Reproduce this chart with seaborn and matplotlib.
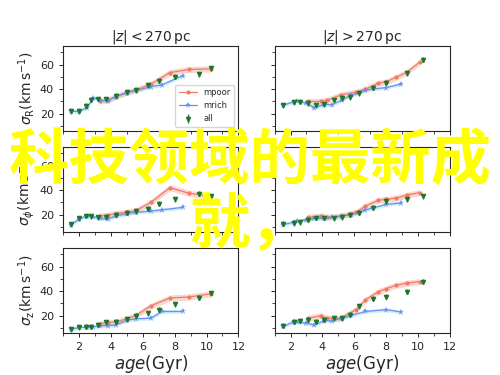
import numpy as np
import seaborn as sns
import matplotlib.pyplot as plt
from matplotlib.ticker import MultipleLocator

# ages (Gyr) and dispersions (km/s)
# ---- |z| < 270 pc
ages_all_in = [1.5, 2.0, 2.45, 2.75, 3.2, 3.7, 4.3, 5.0, 5.6, 6.3, 7.0, 8.0, 9.55, 10.25]
sR_all_in = [22, 22, 26.5, 31.5, 32, 32, 34.5, 37.5, 39, 43, 47, 50, 52, 57]
sP_all_in = [12.4, 17, 19, 18.8, 18, 18.3, 20, 21.8, 23, 25, 29, 32.5, 37, 35]
sZ_all_in = [9, 10.7, 11.2, 11.2, 12.6, 14.8, 15.3, 17.3, 20, 22, 24.9, 29.5, 34.5, 38.5]

ages_poor_in = [3.3, 3.8, 4.3, 5.0, 5.6, 6.5, 7.7, 8.9, 10.25]
sR_poor_in = [30.5, 31, 34, 37.5, 39.5, 44, 53.5, 56, 56.5]
sP_poor_in = [19, 19.5, 21, 22, 23.5, 30, 42, 37.5, 35]
sZ_poor_in = [13.4, 14.5, 15, 17.5, 20.5, 28, 34.5, 35.3, 37.8]

ages_rich_in = [1.5, 2.0, 2.5, 2.9, 3.3, 3.8, 4.3, 5.0, 5.6, 6.5, 7.2, 8.5]
sR_rich_in = [22, 22, 25, 33, 31, 30.5, 34, 37, 39, 42, 43.5, 51]
sP_rich_in = [12, 16.5, 19, 18.5, 17, 16.5, 19, 21, 22, 23, 24, 26]
sZ_rich_in = [9, 10.5, 10.5, 11, 12, 12, 12.5, 16.5, 17.5, 18, 23.5, 23.5]

# ---- |z| > 270 pc
ages_all_out = [1.55, 2.2, 2.6, 3.1, 3.6, 4.1, 4.75, 5.2, 5.7, 6.3, 7.15, 8.0, 9.3, 10.3]
sR_all_out = [27, 29.3, 29.8, 28.4, 27.1, 27.6, 31.2, 32.5, 33.4, 36.6, 41.3, 45.4, 53, 64]
sP_all_out = [12.7, 13.2, 14, 16, 17.4, 17.4, 17, 18, 20, 21.5, 25.6, 31, 32.5, 35]
sZ_all_out = [11.8, 15.3, 16.1, 16.7, 15.3, 16.7, 18, 18, 20.8, 27.6, 33.7, 35.4, 39.5, 47.8]

ages_poor_out = [3.1, 3.9, 4.3, 5.15, 6.1, 6.7, 7.5, 8.0, 8.6, 9.3, 10.1]
sR_poor_out = [30, 30, 31, 35.3, 37.5, 40, 44.8, 46, 49.5, 53.8, 62]
sP_poor_out = [18, 19, 18, 19, 22, 27, 31.7, 32.5, 33.5, 36, 38]
sZ_poor_out = [18, 20, 18, 18, 25, 33, 39.5, 42, 44.7, 46.5, 47.8]

ages_rich_out = [1.55, 2.2, 2.4, 3.0, 3.5, 4.1, 4.6, 5.2, 5.8, 6.7, 8.0, 8.95]
sR_rich_out = [27, 29.8, 30.7, 28.4, 25, 27.5, 27.5, 31, 35, 39.4, 41.3, 44.3]
sP_rich_out = [12, 14, 15, 16, 17, 17, 18, 19, 20, 24, 28.4, 29.7]
sZ_rich_out = [11.3, 15.3, 15, 14, 12.5, 16, 16, 18, 20.3, 23.5, 25, 23]

titles = [r"$|z|<270\,\mathrm{pc}$", r"$|z|>270\,\mathrm{pc}$"]
ylabels = [r"$\sigma_\mathrm{R}(\mathrm{km\,s^{-1}})$",
           r"$\sigma_\phi(\mathrm{km\,s^{-1}})$",
           r"$\sigma_\mathrm{z}(\mathrm{km\,s^{-1}})$"]

sns.set_style("ticks")
plt.rcParams["font.family"] = ["DejaVu Sans"]

red = "#ee7b64"
blue = "#6f8ff0"
band_blue = "#6ccff6"
green = "#1a7a2a"

fig, axes = plt.subplots(3, 2, figsize=(5, 3.75), dpi=100, sharex=True, sharey=True)
fig.subplots_adjust(left=0.126, right=0.9, top=0.877, bottom=0.112, hspace=0.19, wspace=0.206)

cols = [
    (ages_all_in, [sR_all_in, sP_all_in, sZ_all_in], ages_poor_in, [sR_poor_in, sP_poor_in, sZ_poor_in],
     ages_rich_in, [sR_rich_in, sP_rich_in, sZ_rich_in]),
    (ages_all_out, [sR_all_out, sP_all_out, sZ_all_out], ages_poor_out, [sR_poor_out, sP_poor_out, sZ_poor_out],
     ages_rich_out, [sR_rich_out, sP_rich_out, sZ_rich_out]),
]

for c, (a_all, s_all, a_poor, s_poor, a_rich, s_rich) in enumerate(cols):
    for r in range(3):
        ax = axes[r, c]
        yp = np.array(s_poor[r])
        yr = np.array(s_rich[r])
        ax.fill_between(a_poor, yp - 2.5, yp + 2.5, color=red, alpha=0.3, lw=0)
        ax.fill_between(a_rich, yr - 1.5, yr + 1.5, color=band_blue, alpha=0.35, lw=0)
        sns.lineplot(x=a_poor, y=yp, ax=ax, color=red, marker="o", markersize=3,
                     markeredgewidth=0, lw=0.9, label="mpoor" if (r == 0 and c == 0) else None)
        sns.lineplot(x=a_rich, y=yr, ax=ax, color=blue, marker="*", markersize=5,
                     markeredgewidth=0, lw=0.9, label="mrich" if (r == 0 and c == 0) else None)
        ax.errorbar(a_all, s_all[r], yerr=2, fmt="v", ms=3, color=green, ecolor=green,
                    elinewidth=1, capsize=0, label="all" if (r == 0 and c == 0) else None)
        ax.set_xlim(1, 12)
        ax.set_ylim(6, 75)
        ax.xaxis.set_major_locator(MultipleLocator(2))
        ax.xaxis.set_minor_locator(MultipleLocator(1))
        ax.yaxis.set_major_locator(MultipleLocator(20))
        ax.yaxis.set_minor_locator(MultipleLocator(10))
        ax.tick_params(labelsize=8, length=3, width=0.7)
        ax.tick_params(which="minor", length=2, width=0.6)
        for sp in ax.spines.values():
            sp.set_linewidth(0.8)
        if c == 0:
            ax.set_ylabel(ylabels[r], fontsize=10, labelpad=2)
        if r == 0:
            ax.set_title(titles[c], fontsize=10, pad=4)
        if r == 2:
            ax.set_xlabel(r"$age\mathrm{(Gyr)}$", fontsize=12, labelpad=1)
        if ax.get_legend() is not None:
            ax.get_legend().remove()

axes[0, 0].legend(loc="lower right", fontsize=6, frameon=True, handlelength=2.2,
                  borderpad=0.4, labelspacing=0.5)

cjk = ["Noto Sans CJK SC", "DejaVu Sans"]
fig.text(0.5, 0.571, "科技领域的最新成", ha="center", va="center", fontsize=43.5,
         color="#ffff00", family=cjk, weight="bold")
fig.text(0.5, 0.40, "就，", ha="center", va="center", fontsize=43.5,
         color="#ffff00", family=cjk, weight="bold")

fig.savefig("out.png", dpi=100)
